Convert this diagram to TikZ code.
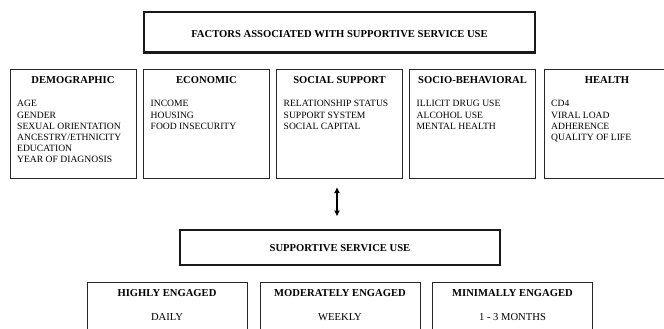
\documentclass[tikz,border=0pt]{standalone}
\usepackage{fontspec}
\setmainfont{Liberation Serif}
\usetikzlibrary{arrows.meta}
\begin{document}
\begin{tikzpicture}[x=1pt,y=-1pt,
  thinbox/.style={draw=black!85,line width=1pt,inner sep=0pt,rectangle},
  thickbox/.style={draw=black!90,line width=2.4pt,inner sep=0pt,rectangle},
  head/.style={font=\fontsize{10.6}{12}\selectfont\bfseries,inner sep=0pt,anchor=base},
  entry/.style={font=\fontsize{9.6}{11}\selectfont,inner sep=0pt,anchor=base west},
  level/.style={font=\fontsize{10.6}{12}\selectfont,inner sep=0pt,anchor=base},
  link/.style={line width=1.2pt,{Latex[length=6pt,width=6pt]}-{Latex[length=6pt,width=6pt]}},
]
\useasboundingbox (0,0) rectangle (664,329);
\clip (0,0) rectangle (664,329);

% overall title
\node[thickbox,minimum width=391pt,minimum height=40.5pt] (factors) at (339.5,32.3) {};
\node[head] (factorsT) at (339.5,37.6) {FACTORS ASSOCIATED WITH SUPPORTIVE SERVICE USE};

% factor groups
\foreach \name/\cx/\title/\items in {
  demo/73/DEMOGRAPHIC/{AGE,GENDER,SEXUAL ORIENTATION,ANCESTRY/ETHNICITY,EDUCATION,YEAR OF DIAGNOSIS},
  econ/206.5/ECONOMIC/{INCOME,HOUSING,FOOD INSECURITY},
  social/339.5/SOCIAL SUPPORT/{RELATIONSHIP STATUS,SUPPORT SYSTEM,SOCIAL CAPITAL},
  behav/472.5/SOCIO-BEHAVIORAL/{ILLICIT DRUG USE,ALCOHOL USE,MENTAL HEALTH},
  health/607/HEALTH/{CD4,VIRAL LOAD,ADHERENCE,QUALITY OF LIFE}}
{
  \node[thinbox,minimum width=126pt,minimum height=108pt] (\name) at (\cx,124) {};
  \node[head] (\name T) at (\cx,83.6) {\title};
  \pgfmathsetmacro{\lx}{\cx-56}
  \foreach \itm [count=\i from 0] in \items {
    \pgfmathsetmacro{\ly}{106.8+11.2*\i}
    \node[entry] (\name\i) at (\lx,\ly) {\itm};
  }
}

% relationship arrow
\coordinate (arrtop) at (337,187);
\coordinate (arrbot) at (337,216.5);
\draw[link] (arrtop) -- (arrbot);

% outcome
\node[thickbox,minimum width=320pt,minimum height=34.5pt] (support) at (340,247.5) {};
\node[head] (supportT) at (340,251.2) {SUPPORTIVE SERVICE USE};

% engagement levels
\foreach \name/\cx/\title/\freq in {
  high/167/HIGHLY ENGAGED/DAILY,
  moderate/340/MODERATELY ENGAGED/WEEKLY,
  minimal/512.5/MINIMALLY ENGAGED/1 - 3 MONTHS}
{
  \node[thinbox,minimum width=160pt,minimum height=60pt] (\name) at (\cx,312) {};
  \node[head] (\name T) at (\cx,296.3) {\title};
  \node[level] (\name F) at (\cx,320.2) {\freq};
}
\end{tikzpicture}
\end{document}
